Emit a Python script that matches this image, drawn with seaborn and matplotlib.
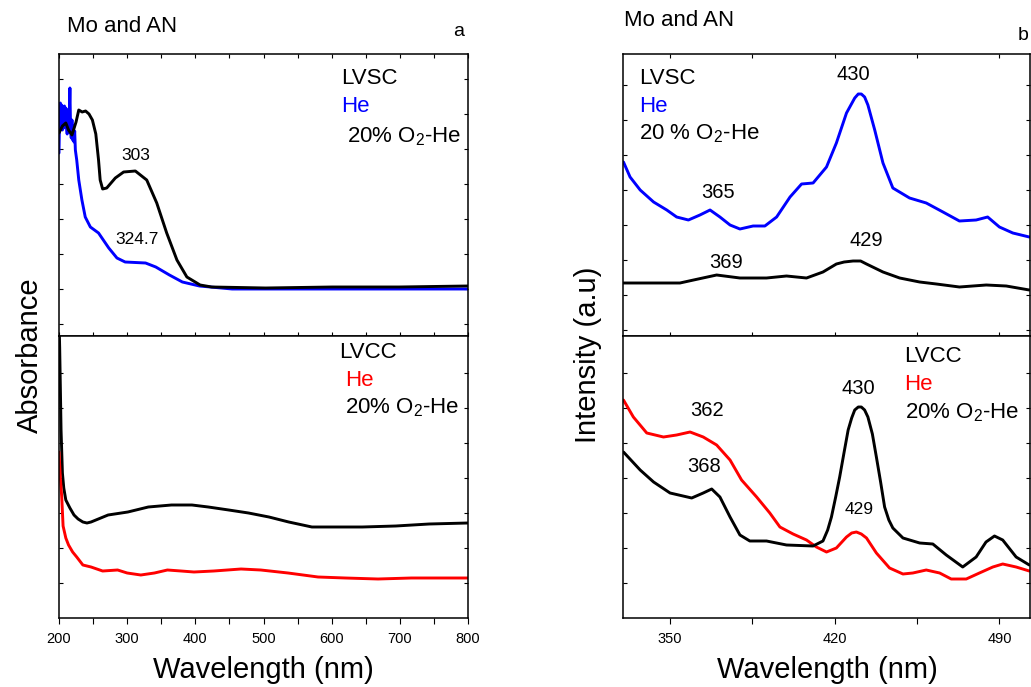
import matplotlib.pyplot as plt
import pandas as pd
import seaborn as sns
import numpy as np
from matplotlib.ticker import MultipleLocator

sns.set_style("ticks")
plt.rcParams['font.family'] = ['Liberation Sans', 'DejaVu Sans']
plt.rcParams['mathtext.fontset'] = 'custom'
plt.rcParams['mathtext.rm'] = 'Liberation Sans'
plt.rcParams['mathtext.it'] = 'Liberation Sans'
plt.rcParams['text.color'] = 'black'
plt.rcParams['xtick.color'] = 'black'
plt.rcParams['ytick.color'] = 'black'
plt.rcParams['axes.edgecolor'] = 'black'

# ---- panel a: absorbance (a.u.) ----
# LVSC, He (blue)
a_he_vsc_x = [200, 201, 202, 203, 204, 205, 206, 207, 208, 209, 210, 211, 212, 213, 214,
              215, 216, 217, 218, 219, 220, 221, 222, 223, 224, 226, 229, 233.6, 238.5, 246,
              258, 273, 285, 297, 327, 342, 362, 381, 406, 454, 600, 800]
a_he_vsc_y = [1.83, 2.26, 2.33, 2.11, 2.31, 2.06, 2.24, 2.08, 2.30, 2.12, 2.28, 2.10, 2.02, 2.26,
              2.04, 2.20, 2.48, 2.06, 1.98, 2.16, 1.96, 2.10, 1.94, 2.05, 1.86, 1.76, 1.56, 1.36,
              1.19, 1.09, 1.03, 0.88, 0.78, 0.74, 0.73, 0.69, 0.61, 0.54, 0.50, 0.47, 0.47, 0.47]
# LVSC, 20% O2-He (black)
a_o2_vsc_x = [200, 205, 210, 214, 219, 225, 229, 234, 239, 244, 249, 254, 258, 260.4, 264, 270,
              282.6, 294.8, 312, 328.7, 343.4, 358, 373, 387.6, 407, 424, 503, 601, 699, 800]
a_o2_vsc_y = [2.03, 2.10, 2.13, 2.06, 2.01, 2.14, 2.26, 2.24, 2.25, 2.22, 2.16, 2.02, 1.76,
              1.56, 1.47, 1.48, 1.58, 1.64, 1.65, 1.56, 1.33, 1.03, 0.76, 0.59, 0.51, 0.49,
              0.48, 0.49, 0.49, 0.50]
# LVCC, He (red)
a_he_vcc_x = [200, 202, 204, 206, 210, 214, 220, 226, 235, 247, 264, 286, 300, 320, 340, 359,
              379, 398, 427, 467, 496, 536, 580, 620, 668, 717, 800]
a_he_vcc_y = [1.66, 1.40, 1.21, 0.92, 0.80, 0.73, 0.66, 0.61, 0.53, 0.51, 0.47, 0.48, 0.45,
              0.43, 0.45, 0.48, 0.47, 0.46, 0.47, 0.49, 0.48, 0.45, 0.41, 0.40, 0.39, 0.40,
              0.40]
# LVCC, 20% O2-He (black)
a_o2_vcc_x = [200, 201, 202, 203, 205, 207, 210, 216, 222, 228, 235, 241, 247, 272, 301, 331,
              365, 395, 419, 449, 478, 508, 537, 571, 596, 645, 694, 743, 800]
a_o2_vcc_y = [3.00, 2.70, 2.30, 1.88, 1.45, 1.30, 1.18, 1.10, 1.03, 0.99, 0.96, 0.95, 0.96,
              1.03, 1.06, 1.11, 1.13, 1.13, 1.11, 1.08, 1.05, 1.01, 0.96, 0.91, 0.91, 0.91,
              0.92, 0.94, 0.95]

# ---- panel b: intensity (a.u.) ----
b_he_vsc_x = [330.2, 333, 337.3, 343, 348.6, 352.8, 357.8, 362.7, 367, 371.2, 375.5, 379.7,
              385.3, 390.3, 395.3, 401, 405.9, 410.8, 416.5, 420.7, 425, 428.5, 430, 431.3,
              432.7, 434.1, 437, 440.5, 444.7, 451.8, 458.9, 466, 473, 480.1, 485, 490, 495.7,
              502.7]
b_he_vsc_y = [1.74, 1.59, 1.46, 1.34, 1.26, 1.19, 1.16, 1.21, 1.26, 1.19, 1.11, 1.07, 1.10,
              1.10, 1.19, 1.39, 1.52, 1.53, 1.69, 1.93, 2.23, 2.38, 2.42, 2.42, 2.39, 2.31,
              2.06, 1.73, 1.48, 1.38, 1.33, 1.24, 1.15, 1.16, 1.19, 1.09, 1.03, 0.99]
b_o2_vsc_x = [330.2, 338.7, 345.7, 354.2, 360, 369.8, 379.7, 391, 399.5, 408, 415, 420.7,
              424, 427.8, 431, 433.5, 440.5, 447.6, 456.1, 463.2, 473, 484.4, 492.9, 502.7]
b_o2_vsc_y = [0.53, 0.53, 0.53, 0.53, 0.56, 0.61, 0.58, 0.58, 0.60, 0.58, 0.64, 0.72, 0.74,
              0.75, 0.75, 0.72, 0.64, 0.58, 0.54, 0.52, 0.49, 0.51, 0.50, 0.46]
b_he_vcc_x = [330.2, 334.4, 340.1, 347.2, 352.8, 358.5, 364.1, 369.8, 375.5, 380.4, 386.8,
              392.4, 396.7, 402.3, 408, 412.2, 416.5, 420.7, 425, 427.2, 429.2, 431.3, 433.5,
              437.7, 443.3, 449, 453.2, 458.9, 464.6, 469.5, 475.9, 481.5, 487.2, 491.4,
              497.1, 502.7]
b_he_vcc_y = [2.18, 2.01, 1.85, 1.81, 1.83, 1.86, 1.81, 1.73, 1.58, 1.38, 1.21, 1.05, 0.91,
              0.84, 0.78, 0.71, 0.66, 0.70, 0.81, 0.85, 0.86, 0.84, 0.80, 0.65, 0.50, 0.44,
              0.45, 0.48, 0.45, 0.39, 0.39, 0.45, 0.51, 0.54, 0.51, 0.47]
b_o2_vcc_x = [330.2, 337.3, 343, 350, 359.2, 364.1, 367.7, 371.2, 375.5, 379.7, 383.9, 391,
              399.5, 410.8, 415, 417, 418.6, 420.4, 422.1, 424, 425.7, 427.2, 428.5, 430,
              431.3, 432.7, 434.1, 436, 437.7, 439.5, 441.2, 443, 444.7, 449, 456.1, 461.7,
              467.4, 474.4, 480.1, 484.3, 487.9, 491.4, 497.1, 502.7]
b_o2_vcc_y = [1.66, 1.48, 1.36, 1.25, 1.20, 1.25, 1.29, 1.21, 1.01, 0.83, 0.77, 0.77, 0.73,
              0.72, 0.77, 0.88, 1.01, 1.21, 1.41, 1.66, 1.88, 2.00, 2.08, 2.11, 2.11, 2.08,
              2.01, 1.84, 1.61, 1.36, 1.11, 0.98, 0.90, 0.80, 0.75, 0.74, 0.63, 0.51, 0.61,
              0.76, 0.82, 0.78, 0.61, 0.53]

W, H = 1031, 687
fig = plt.figure(figsize=(W / 100, H / 100), dpi=100)

def frac(x0, y_top, x1, y_bot):
    return [x0 / W, 1 - y_bot / H, (x1 - x0) / W, (y_bot - y_top) / H]

ax_at = fig.add_axes(frac(59, 54, 468, 336))
ax_ab = fig.add_axes(frac(59, 336, 468, 618))
ax_bt = fig.add_axes(frac(623, 54, 1030, 336))
ax_bb = fig.add_axes(frac(623, 336, 1030, 618))

def draw(ax, x, y, color):
    df = pd.DataFrame({"x": x, "y": y})
    sns.lineplot(data=df, x="x", y="y", color=color, lw=2.1, ax=ax,
                 estimator=None, sort=False, solid_joinstyle="round",
                 solid_capstyle="round")

draw(ax_at, a_he_vsc_x, a_he_vsc_y, "#0000ff")
draw(ax_at, a_o2_vsc_x, a_o2_vsc_y, "black")
draw(ax_ab, a_o2_vcc_x, a_o2_vcc_y, "black")
draw(ax_ab, a_he_vcc_x, a_he_vcc_y, "#ff0000")
draw(ax_bt, b_he_vsc_x, b_he_vsc_y, "#0000ff")
draw(ax_bt, b_o2_vsc_x, b_o2_vsc_y, "black")
draw(ax_bb, b_he_vcc_x, b_he_vcc_y, "#ff0000")
draw(ax_bb, b_o2_vcc_x, b_o2_vcc_y, "black")

for ax in [ax_at, ax_ab, ax_bt, ax_bb]:
    ax.set_ylim(0, 2.82)
    ax.set_xlabel("")
    ax.set_ylabel("")
    for s in ax.spines.values():
        s.set_visible(True)
        s.set_linewidth(1.1)
        s.set_color("black")
    ax.tick_params(axis="y", which="both", direction="in", length=3, width=0.8,
                   left=True, right=True, labelleft=False)
    ax.tick_params(axis="x", which="both", direction="in", length=3, width=0.8,
                   top=True, bottom=True, labelbottom=False)

for ax in [ax_at, ax_ab]:
    ax.set_xlim(200, 800)
    ax.xaxis.set_major_locator(MultipleLocator(100))
    ax.xaxis.set_minor_locator(MultipleLocator(50))
for ax in [ax_bt, ax_bb]:
    ax.set_xlim(330, 503)
    ax.xaxis.set_major_locator(MultipleLocator(70))
    ax.xaxis.set_minor_locator(MultipleLocator(35))

ax_at.set_yticks(np.arange(0.12, 2.8, 0.35))
ax_bt.set_yticks(np.arange(0.06, 2.8, 0.35))
ax_ab.set_yticks(np.arange(0.35, 2.8, 0.35))
ax_bb.set_yticks(np.arange(0.35, 2.8, 0.35))

for ax in [ax_ab, ax_bb]:
    ax.tick_params(axis="x", which="both", direction="out", length=4,
                   labelbottom=True, labelsize=10.5, pad=6)
    ax.tick_params(axis="x", which="both", top=False)

o2 = "O$_{2}$"
# panel a annotations
ax_at.text(614, 2.57, "LVSC", fontsize=16, va="center")
ax_at.text(614, 2.29, "He", fontsize=16, va="center", color="#0000ff")
ax_at.text(623, 1.99, "20% " + o2 + "-He", fontsize=16, va="center")
ax_at.text(313, 1.81, "303", fontsize=12.5, ha="center", va="center")
ax_at.text(314, 0.97, "324.7", fontsize=12.5, ha="center", va="center")
ax_ab.text(611, 2.65, "LVCC", fontsize=16, va="center")
ax_ab.text(620, 2.38, "He", fontsize=16, va="center", color="#ff0000")
ax_ab.text(620, 2.10, "20% " + o2 + "-He", fontsize=16, va="center")

# panel b annotations
ax_bt.text(336.8, 2.58, "LVSC", fontsize=16, va="center")
ax_bt.text(336.8, 2.30, "He", fontsize=16, va="center", color="#0000ff")
ax_bt.text(336.8, 2.02, "20 % " + o2 + "-He", fontsize=16, va="center")
ax_bt.text(428.1, 2.61, "430", fontsize=14.5, ha="center", va="center")
ax_bt.text(370.4, 1.43, "365", fontsize=14.5, ha="center", va="center")
ax_bt.text(433.6, 0.95, "429", fontsize=14.5, ha="center", va="center")
ax_bt.text(373.8, 0.73, "369", fontsize=14.5, ha="center", va="center")
ax_bb.text(449.7, 2.61, "LVCC", fontsize=16, va="center")
ax_bb.text(449.7, 2.33, "He", fontsize=16, va="center", color="#ff0000")
ax_bb.text(449.7, 2.05, "20% " + o2 + "-He", fontsize=16, va="center")
ax_bb.text(365.6, 2.08, "362", fontsize=14.5, ha="center", va="center")
ax_bb.text(364.4, 1.51, "368", fontsize=14.5, ha="center", va="center")
ax_bb.text(430.2, 2.30, "430", fontsize=14.5, ha="center", va="center")
ax_bb.text(430.2, 1.09, "429", fontsize=12.5, ha="center", va="center")

# titles, panel letters, axis labels
fig.text(67 / W, 1 - 27 / H, "Mo and AN", fontsize=16, va="center")
fig.text(453 / W, 1 - 32 / H, "a", fontsize=14, va="center")
fig.text(624 / W, 1 - 20 / H, "Mo and AN", fontsize=16, va="center")
fig.text(1018 / W, 1 - 35 / H, "b", fontsize=14, va="center")
fig.text(30 / W, 1 - 355 / H, "Absorbance", fontsize=21, rotation=90,
         ha="center", va="center")
fig.text(588 / W, 1 - 355 / H, "Intensity (a.u)", fontsize=21, rotation=90,
         ha="center", va="center")
fig.text(263 / W, 1 - 670 / H, "Wavelength (nm)", fontsize=21, ha="center", va="center")
fig.text(827 / W, 1 - 670 / H, "Wavelength (nm)", fontsize=21, ha="center", va="center")

plt.savefig("out.png", dpi=100)
